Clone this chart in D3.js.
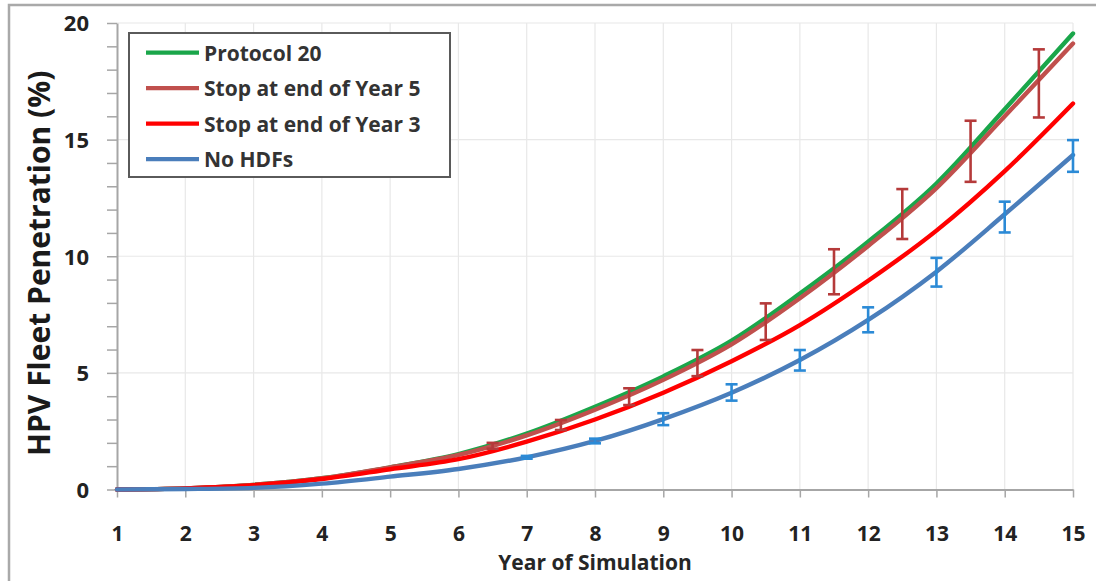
<!DOCTYPE html>
<html>
<head>
<meta charset="utf-8">
<script src="https://cdn.jsdelivr.net/npm/d3@7/dist/d3.min.js"></script>
<style>
    body { margin: 0; background: #fff; }
    svg { display: block; }
</style>
</head>
<body>
<script>
// values
const years = [1, 2, 3, 4, 5, 6, 7, 8, 9, 10, 11, 12, 13, 14, 15];
const protocol20 = [0, 0.05, 0.2, 0.48, 0.95, 1.52, 2.4, 3.55, 4.85, 6.38, 8.4, 10.62, 13.12, 16.3, 19.55];
const stopYear5 = [0, 0.05, 0.2, 0.48, 0.95, 1.48, 2.32, 3.42, 4.7, 6.22, 8.2, 10.44, 12.92, 16.0, 19.12];
const stopYear3 = [0, 0.05, 0.18, 0.45, 0.87, 1.3, 2.05, 3.0, 4.15, 5.5, 7.05, 8.95, 11.1, 13.65, 16.55];
const noHdfs = [0, 0.02, 0.07, 0.25, 0.55, 0.88, 1.38, 2.08, 3.02, 4.15, 5.55, 7.27, 9.34, 11.8, 14.34];

// error bars on the "Stop at end of Year 5" curve (half years)
const errYears5 = [6.5, 7.5, 8.5, 9.5, 10.5, 11.5, 12.5, 13.5, 14.5];
const errLow5 = [1.75, 2.55, 3.62, 4.86, 6.41, 8.37, 10.74, 13.19, 15.95];
const errHigh5 = [2.0, 2.98, 4.34, 5.98, 7.98, 10.3, 12.88, 15.81, 18.87];

// error bars on the "No HDFs" curve
const errYearsNo = [7, 8, 9, 10, 11, 12, 13, 14, 15];
const errLowNo = [1.32, 1.98, 2.76, 3.81, 5.1, 6.74, 8.7, 11.02, 13.62];
const errHighNo = [1.44, 2.18, 3.27, 4.51, 5.98, 7.81, 9.93, 12.34, 14.98];

const yTicks = [0, 5, 10, 15, 20];
const seriesNames = ['Protocol 20', 'Stop at end of Year 5', 'Stop at end of Year 3', 'No HDFs'];
const seriesValues = [protocol20, stopYear5, stopYear3, noHdfs];
const seriesColors = ['#1aa64a', '#c0504d', '#ff0000', '#4a7ebb'];

const width = 1096;
const height = 581;
const fontFamily = '"Open Sans", Lato, sans-serif';

const x = d3.scaleLinear()
    .domain([1, 15])
    .range([117, 1073]);

const y = d3.scaleLinear()
    .domain([0, 20])
    .range([489.5, 23]);

const svg = d3.create('svg')
    .attr('width', width)
    .attr('height', height)
    .attr('font-family', fontFamily);

// outer frame
svg.append('rect')
    .attr('x', 9)
    .attr('y', 5)
    .attr('width', width + 20)
    .attr('height', height + 20)
    .attr('fill', 'none')
    .attr('stroke', '#a9a9a9')
    .attr('stroke-width', 2.5);

// grid
const grid = svg.append('g')
    .attr('stroke', '#e8e8e8')
    .attr('stroke-width', 1.2);

grid.selectAll('.vgrid')
    .data(years.slice(1))
    .join('line')
    .attr('x1', d => x(d))
    .attr('x2', d => x(d))
    .attr('y1', y(20))
    .attr('y2', y(0));

grid.selectAll('.hgrid')
    .data(yTicks.slice(1))
    .join('line')
    .attr('x1', x(1))
    .attr('x2', x(15))
    .attr('y1', d => y(d))
    .attr('y2', d => y(d));

// axes
const xAxis = d3.axisBottom(x)
    .tickValues(years)
    .tickSize(8)
    .tickSizeOuter(0)
    .tickFormat(d3.format('d'));

const yAxis = d3.axisLeft(y)
    .tickValues(y.ticks(20))
    .tickSize(10)
    .tickSizeOuter(0)
    .tickFormat(d => yTicks.includes(d) ? d : '');

const gx = svg.append('g')
    .attr('transform', `translate(0,${y(0)})`)
    .call(xAxis);

const gy = svg.append('g')
    .attr('transform', `translate(${x(1)},0)`)
    .call(yAxis);

[gx, gy].forEach(g => {
    g.select('.domain')
        .attr('stroke', '#a6a6a6')
        .attr('stroke-width', 2);
    g.selectAll('.tick line')
        .attr('stroke', '#a6a6a6')
        .attr('stroke-width', 1.5);
    g.selectAll('.tick text')
        .attr('font-family', fontFamily)
        .attr('font-size', 22)
        .attr('font-weight', 'bold')
        .attr('fill', '#222');
});

gx.selectAll('.tick text')
    .attr('font-size', 21)
    .attr('y', 51)
    .attr('dy', 0);

gy.selectAll('.tick text')
    .attr('x', -28)
    .attr('dy', '0.36em');

// axis titles
svg.append('text')
    .attr('x', (x(1) + x(15)) / 2)
    .attr('y', 570)
    .attr('text-anchor', 'middle')
    .attr('font-size', 21)
    .attr('font-weight', 'bold')
    .attr('fill', '#262626')
    .text('Year of Simulation');

svg.append('text')
    .attr('transform', `translate(50,${(y(0) + y(20)) / 2 + 7}) rotate(-90)`)
    .attr('text-anchor', 'middle')
    .attr('font-size', 30)
    .attr('font-weight', 'bold')
    .attr('fill', '#1a1a1a')
    .text('HPV Fleet Penetration (%)');

// lines
const line = d3.line()
    .x((d, i) => x(years[i]))
    .y(d => y(d))
    .curve(d3.curveMonotoneX);

svg.append('g')
    .selectAll('path')
    .data(seriesValues)
    .join('path')
    .attr('d', d => line(d))
    .attr('fill', 'none')
    .attr('stroke', (d, i) => seriesColors[i])
    .attr('stroke-width', 4.4)
    .attr('stroke-linecap', 'round');

// error bars
const drawErrorBars = (xs, lows, highs, color) => {
    const g = svg.append('g')
        .attr('stroke', color)
        .attr('stroke-width', 2.6)
        .attr('fill', 'none');
    const bars = xs.map((d, i) => ({ x: d, lo: lows[i], hi: highs[i] }));
    g.selectAll('.stem')
        .data(bars)
        .join('line')
        .attr('x1', d => x(d.x))
        .attr('x2', d => x(d.x))
        .attr('y1', d => y(d.lo))
        .attr('y2', d => y(d.hi));
    g.selectAll('.cap-lo')
        .data(bars)
        .join('line')
        .attr('x1', d => x(d.x) - 6)
        .attr('x2', d => x(d.x) + 6)
        .attr('y1', d => y(d.lo))
        .attr('y2', d => y(d.lo));
    g.selectAll('.cap-hi')
        .data(bars)
        .join('line')
        .attr('x1', d => x(d.x) - 6)
        .attr('x2', d => x(d.x) + 6)
        .attr('y1', d => y(d.hi))
        .attr('y2', d => y(d.hi));
};

drawErrorBars(errYears5, errLow5, errHigh5, '#b53a3a');
drawErrorBars(errYearsNo, errLowNo, errHighNo, '#2b8ad6');

// legend
const legend = svg.append('g');

legend.append('rect')
    .attr('x', 129)
    .attr('y', 33)
    .attr('width', 321)
    .attr('height', 144)
    .attr('fill', '#fff')
    .attr('stroke', '#5a5a5a')
    .attr('stroke-width', 2);

const rowY = i => 52.7 + i * 35.5;

legend.selectAll('line')
    .data(seriesNames)
    .join('line')
    .attr('x1', 146)
    .attr('x2', 199)
    .attr('y1', (d, i) => rowY(i))
    .attr('y2', (d, i) => rowY(i))
    .attr('stroke', (d, i) => seriesColors[i])
    .attr('stroke-width', 4.2);

legend.selectAll('text')
    .data(seriesNames)
    .join('text')
    .attr('x', 204)
    .attr('y', (d, i) => rowY(i) + 8)
    .attr('font-size', 21)
    .attr('font-weight', 'bold')
    .attr('fill', '#333')
    .text(d => d);

document.querySelector('body').appendChild(svg.node());
</script>
</body>
</html>
